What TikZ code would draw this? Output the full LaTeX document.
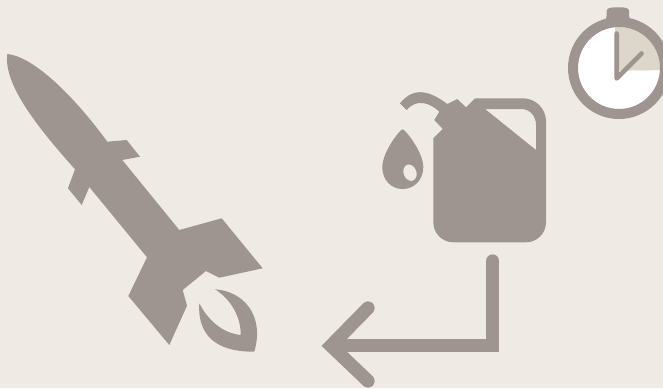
\documentclass[tikz,border=0pt]{standalone}
\definecolor{bgc}{HTML}{EFEAE4}
\definecolor{icon}{HTML}{9E9590}
\definecolor{wedge}{HTML}{DDD6CA}
\begin{document}
\begin{tikzpicture}[x=1pt,y=-1pt]
\useasboundingbox (0,0) rectangle (663,388);
\fill[bgc] (0,0) rectangle (663,388);
% rocket
\fill[icon] (7.3,54) .. controls (30,56) and (68,88) .. (107.3,141.7) -- (126.7,140) -- (140,156.7) -- (122.3,160) -- (179.3,230) -- (221.7,218.3) -- (262.7,268.3) -- (219.3,277.7) -- (206,271) -- (182.7,290) -- (187,305.7) -- (169.3,345) -- (128.3,296) -- (147,257.3) -- (89.3,187) -- (81.7,205) -- (68,188.3) -- (75,169.3) .. controls (40,130) and (3,85) .. (7.3,54) -- cycle;
% flame
\fill[icon] (215,289.3) .. controls (243,291) and (265,315) .. (254.3,351.7) .. controls (225,352) and (197,342) .. (199.3,303.3) .. controls (208,320) and (222,333) .. (240.7,335) .. controls (241,318) and (232,300) .. (215,289.3) -- cycle;
% can
\fill[icon,even odd rule] (475,98.3) -- (523,98.3) arc[start angle=-90,end angle=0,radius=23] -- (546,222.3) arc[start angle=0,end angle=90,radius=20] -- (453.3,242.3) arc[start angle=90,end angle=180,radius=20] -- (433.3,138.3) -- (442.7,129) -- (434.3,120) -- (439.3,111.7) .. controls (430,103) and (417,98) .. (406.7,110) -- (400,103.3) .. controls (414,86) and (430,91) .. (447.3,104) -- (457.3,99) -- (466,107.3) -- cycle
 (485,109) -- (521,109) .. controls (530,109) and (536,116) .. (536,125) -- (536,150) -- cycle;
% drop
\fill[icon,even odd rule] (402.7,129.3) .. controls (405,129.3) and (423.3,152) .. (423.3,167) .. controls (423.3,180) and (414,189) .. (402.8,189) .. controls (391,189) and (382.3,180) .. (382.3,167) .. controls (382.3,152) and (400,129.3) .. (402.7,129.3) -- cycle
 (410,172.7) ellipse[x radius=6.5,y radius=8.5,rotate=20];
% stopwatch
\fill[icon] (604,22) .. controls (606,19) and (606.7,18) .. (606.7,15) -- (606.7,11) .. controls (606.7,8) and (610,7.3) .. (618,7.3) .. controls (626,7.3) and (629,8) .. (629,11) -- (629,15) .. controls (629,18) and (630,19) .. (632,22) -- cycle;
\fill[white] (619,68) circle[radius=41];
\fill[wedge] (615,70.7) -- (615,27) -- (619,27) arc[start angle=-90,end angle=3,radius=41] -- cycle;
\draw[icon,line width=10pt] (619,68) circle[radius=46];
\draw[icon,line width=4.6pt,line cap=round,line join=round] (616.7,33.5) -- (616.7,78.5) -- (641.5,53.5);
% arrow
\coordinate (start) at (492.7,261);
\coordinate (bend) at (492.7,345.7);
\coordinate (tip) at (331,345.7);
\coordinate (armA) at (368,308);
\coordinate (armB) at (368,381);
\draw[icon,line width=13.3pt,line cap=round] (start) -- (492.7,300);
\draw[icon,line width=13.3pt] (492.7,290) -- (bend) -- (tip);
\draw[icon,line width=13.3pt,line cap=round,line join=miter] (armA) -- (tip) -- (armB);
\end{tikzpicture}
\end{document}
